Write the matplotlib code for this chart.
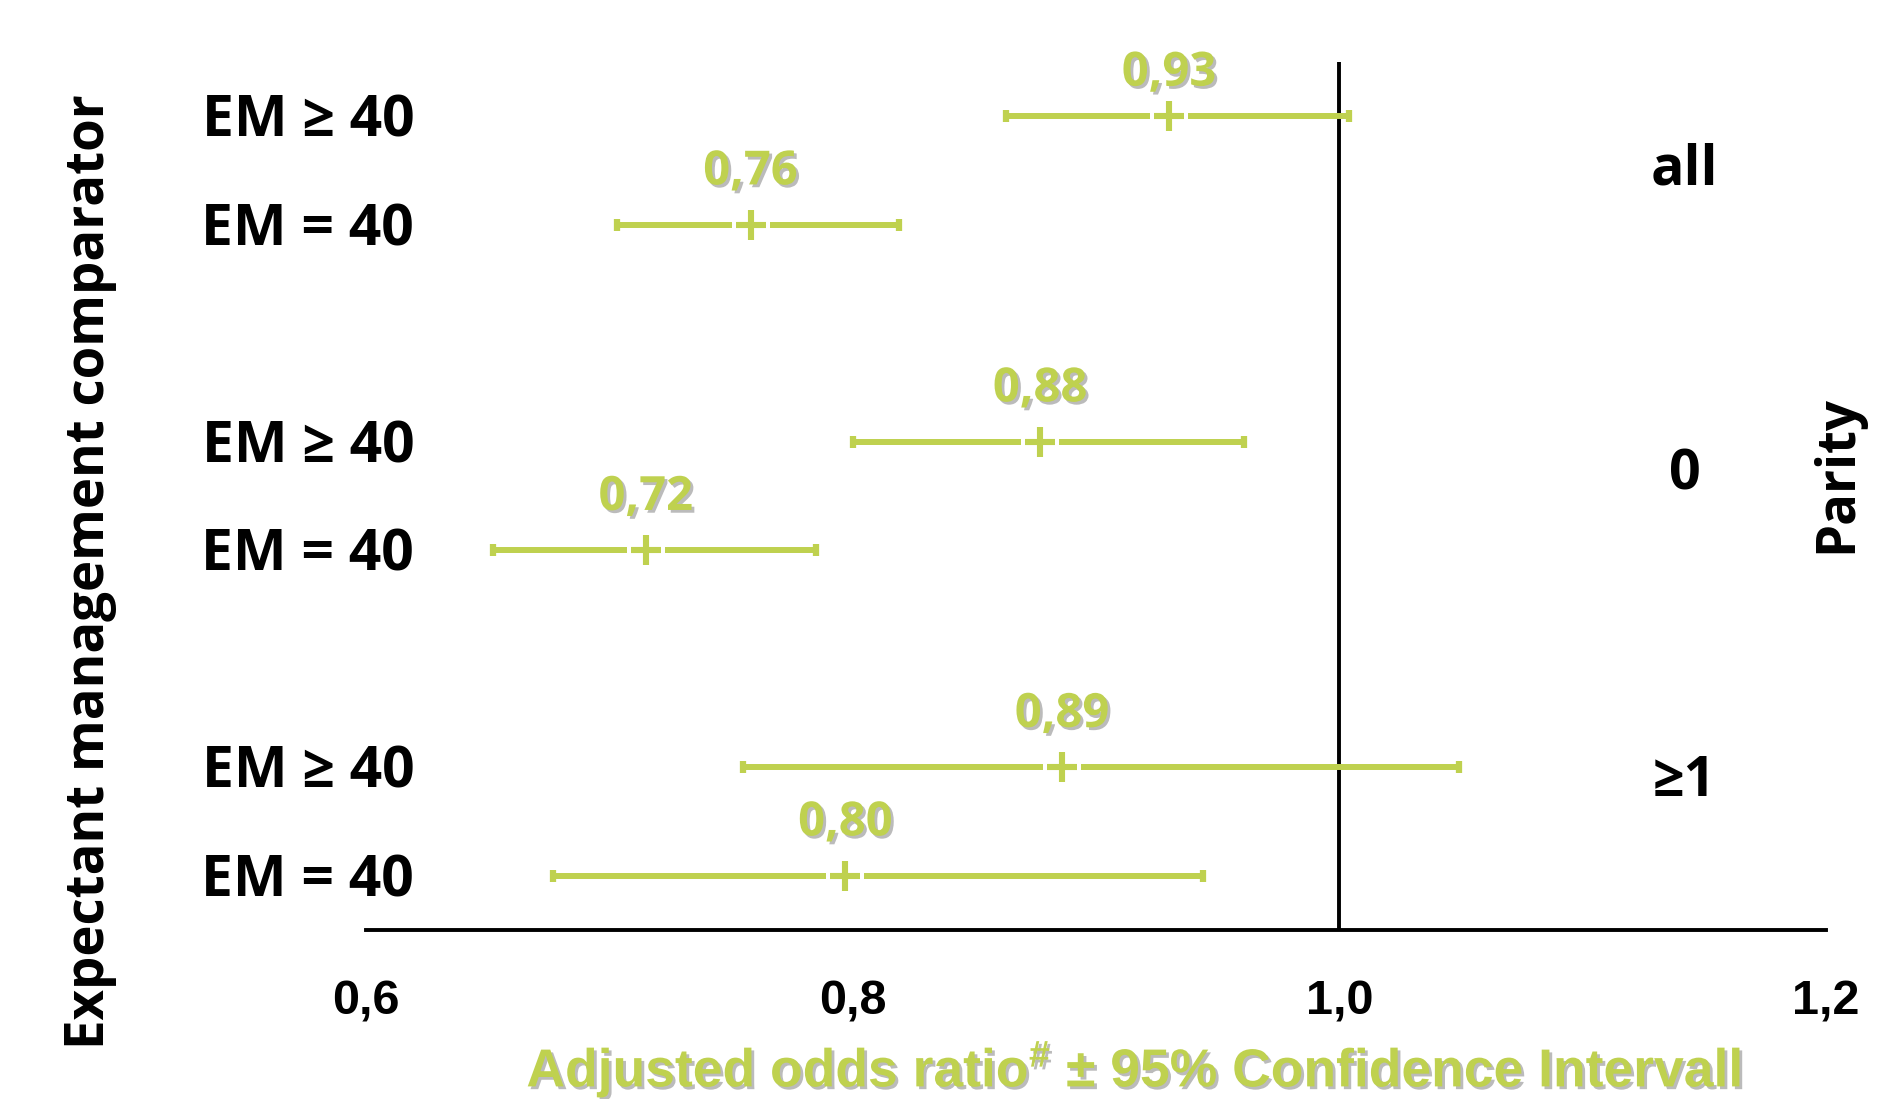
import numpy as np
import matplotlib as mpl
mpl.use('Agg')
import matplotlib.pyplot as plt
import matplotlib.patheffects as pe

# Daten: adjustierte Odds Ratios mit 95%-KI
row_labels = ['EM ≥ 40', 'EM = 40', 'EM ≥ 40', 'EM = 40', 'EM ≥ 40', 'EM = 40']
parity_groups = ['all', '0', '≥1']
or_values = [0.93, 0.76, 0.88, 0.72, 0.89, 0.80]
or_points = [0.930, 0.758, 0.877, 0.715, 0.886, 0.797]
ci_low = [0.863, 0.703, 0.800, 0.652, 0.755, 0.677]
ci_high = [1.004, 0.819, 0.961, 0.785, 1.049, 0.944]
xticks = [0.6, 0.8, 1.0, 1.2]
xticklabels = ['0,6', '0,8', '1,0', '1,2']

green = '#BFD14F'
narrow = ['Liberation Sans Narrow', 'Liberation Sans', 'DejaVu Sans']
sans = ['Open Sans', 'DejaVu Sans']
plt.rcParams['mathtext.default'] = 'regular'

# y-Positionen: 3 Gruppen mit je 2 Zeilen, Luecke dazwischen
y_pos = np.array([g*3 + j for g in range(3) for j in range(2)])
parity_offset = [0.5, 0.31, 0.13]
label_lift = [31, 38, 38, 38, 38, 38]  # Abstand Wertelabel ueber Punkt (pt)

fig = plt.figure(figsize=(18.81, 10.99), dpi=100)
ax = fig.add_axes([0.1946, 0.1538, 0.7762, 0.7898])

pts = np.array(or_points)
xerr = np.array([pts - np.array(ci_low), np.array(ci_high) - pts])
ax.errorbar(pts, y_pos, xerr=xerr, fmt='none', ecolor=green, elinewidth=4.3,
            capsize=4.5, capthick=4.5, zorder=2)
ax.plot(pts, y_pos, '+', color='white', ms=27, mew=5.8, zorder=3)
ax.plot(pts, y_pos, '+', color=green, ms=22, mew=4.4, zorder=4)

shadow = [pe.withSimplePatchShadow(offset=(2, -2), shadow_rgbFace='#555555', alpha=0.4)]
for x, y, v, d in zip(pts, y_pos, or_values, label_lift):
    ax.annotate(('%.2f' % v).replace('.', ','), (x, y), xytext=(0, d),
                textcoords='offset points', ha='center', va='center',
                fontsize=34, fontweight='bold', color=green, family=sans,
                path_effects=shadow, zorder=5)

ax.axvline(1.0, color='black', lw=2.8, zorder=1)

trans = ax.get_yaxis_transform()
for y, lab in zip(y_pos, row_labels):
    ax.text(0.033, y + 0.05, lab, transform=trans, ha='right', va='center',
            fontsize=41, fontweight='bold', family=sans)
for g, lab in enumerate(parity_groups):
    ax.text(0.903, g*3 + parity_offset[g], lab, transform=trans, ha='center', va='center',
            fontsize=40, fontweight='bold', family=sans)

ax.set_xlim(0.6, 1.2)
ax.set_ylim(7.5, -0.5)
ax.set_yticks([])
ax.set_xticks(xticks)
ax.set_xticklabels(xticklabels, fontsize=35, fontweight='bold', family=narrow)
ax.tick_params(axis='x', length=0, pad=36)
for s in ['top', 'right', 'left']:
    ax.spines[s].set_visible(False)
ax.spines['bottom'].set_linewidth(2.8)

fig.text(0.048, 0.480, 'Expectant management comparator', rotation=90, ha='center', va='center',
         fontsize=38, fontweight='bold', family=sans)
fig.text(0.977, 0.569, 'Parity', rotation=90, ha='center', va='center',
         fontsize=38, fontweight='bold', family=sans)
fig.text(0.603, 0.027, 'Adjusted odds ratio$^{\\#}$ ± 95% Confidence Intervall', ha='center', va='center',
         fontsize=38.5, fontweight='bold', color=green, family=narrow, path_effects=shadow)

fig.savefig('out.png', dpi=100)
